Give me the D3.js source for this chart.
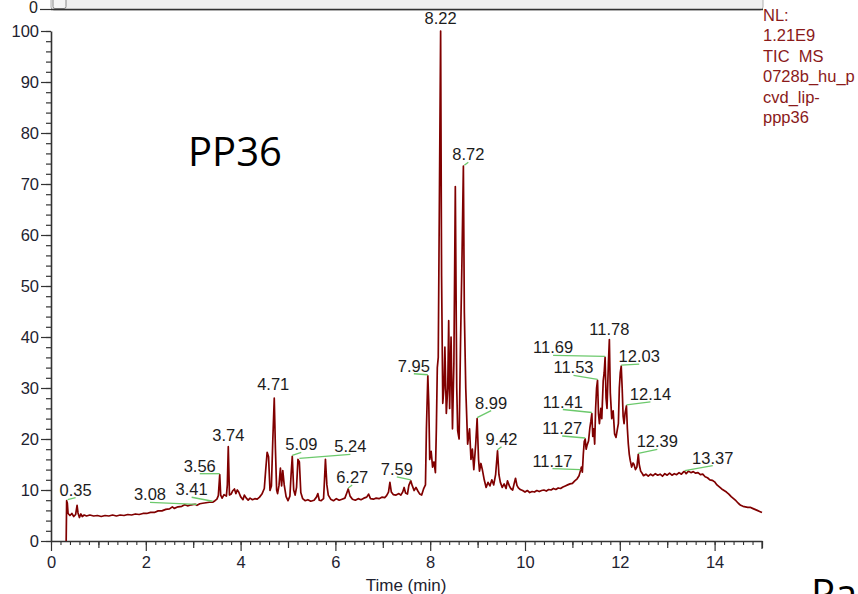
<!DOCTYPE html>
<html><head><meta charset="utf-8">
<script src="https://cdn.jsdelivr.net/npm/d3@7"></script>
<style>
html,body{margin:0;padding:0;background:#fff;overflow:hidden;}
svg{display:block;}
</style></head><body>
<script>
// ---------- DATA ----------
const trace = [
[0.32,0],[0.33,7.9],[0.345,7.4],[0.36,5.4],[0.40,5.0],[0.44,5.4],[0.48,4.8],[0.52,5.2],[0.55,7.0],[0.57,5.5],
[0.60,4.6],[0.63,5.3],[0.66,4.8],[0.70,5.1],[0.75,4.9],[0.82,5.1],[0.90,4.9],[0.98,5.0],[1.06,4.8],[1.14,5.0],
[1.22,4.9],[1.30,5.1],[1.38,4.9],[1.46,5.1],[1.54,5.0],[1.62,5.2],[1.70,5.1],[1.78,5.3],[1.86,5.2],[1.94,5.4],
[2.02,5.4],[2.10,5.6],[2.18,5.6],[2.26,5.9],[2.34,5.9],[2.42,6.2],[2.50,6.3],[2.56,6.7],[2.60,6.4],[2.68,6.7],
[2.76,6.8],[2.82,7.1],[2.88,6.9],[2.96,7.1],[3.04,7.2],[3.08,7.0],[3.14,7.3],[3.20,7.4],[3.27,7.5],[3.34,7.6],
[3.41,7.6],[3.46,7.9],[3.50,8.2],[3.53,8.9],[3.56,13.0],[3.58,9.0],[3.61,8.4],[3.65,9.1],[3.70,8.8],[3.72,11.0],
[3.74,18.5],[3.765,9.0],[3.80,9.2],[3.83,9.8],[3.87,10.2],[3.90,9.3],[3.93,10.0],[3.96,9.6],[4.00,8.7],[4.05,8.1],
[4.08,9.0],[4.12,8.4],[4.16,8.0],[4.20,8.4],[4.25,8.1],[4.30,8.3],[4.35,8.2],[4.40,8.6],[4.45,9.2],[4.50,10.3],
[4.53,14.0],[4.56,17.4],[4.59,16.5],[4.62,9.9],[4.65,10.8],[4.68,20.0],[4.71,28.0],[4.735,18.0],[4.76,10.0],[4.78,9.3],
[4.81,10.9],[4.84,14.3],[4.865,10.8],[4.89,13.8],[4.92,11.0],[4.96,8.7],[5.00,7.9],[5.04,8.8],[5.065,13.0],[5.09,16.6],
[5.12,10.0],[5.15,9.0],[5.18,10.5],[5.21,16.0],[5.24,15.5],[5.27,9.5],[5.31,8.3],[5.36,7.9],[5.42,8.1],[5.48,7.8],
[5.55,8.0],[5.60,8.6],[5.63,9.3],[5.66,8.0],[5.70,7.9],[5.75,8.3],[5.77,12.0],[5.79,16.0],[5.82,11.0],[5.85,9.0],
[5.90,8.2],[5.96,7.9],[6.02,8.3],[6.08,8.0],[6.14,8.2],[6.20,8.4],[6.24,9.4],[6.27,10.2],[6.31,8.8],[6.36,8.2],
[6.42,8.0],[6.48,8.3],[6.54,8.1],[6.60,8.4],[6.66,8.6],[6.70,9.2],[6.74,8.3],[6.80,8.2],[6.86,8.4],[6.92,8.3],
[6.98,8.6],[7.04,8.5],[7.08,8.9],[7.12,9.6],[7.15,11.5],[7.18,9.6],[7.22,9.1],[7.28,9.0],[7.34,9.3],[7.38,9.0],
[7.42,9.6],[7.45,10.5],[7.48,9.4],[7.52,9.2],[7.55,10.9],[7.59,11.8],[7.62,10.9],[7.66,9.9],[7.70,10.5],[7.74,9.8],
[7.78,9.2],[7.82,9.0],[7.86,10.2],[7.90,11.0],[7.92,22.0],[7.95,32.4],[7.97,27.0],[7.99,16.0],[8.02,17.6],[8.05,14.5],
[8.08,15.5],[8.11,13.4],[8.13,22.0],[8.15,34.0],[8.17,36.0],[8.19,62.0],[8.22,100],[8.24,52.0],[8.265,27.0],[8.29,30.0],
[8.31,38.0],[8.34,25.0],[8.37,30.0],[8.39,43.2],[8.41,26.0],[8.44,40.0],[8.47,22.0],[8.50,35.0],[8.53,69.5],[8.56,30.0],
[8.58,21.6],[8.61,20.0],[8.64,39.0],[8.67,55.0],[8.70,73.5],[8.72,45.0],[8.75,30.0],[8.79,19.0],[8.83,22.0],[8.86,16.0],
[8.89,18.0],[8.92,14.0],[8.96,19.0],[8.99,24.0],[9.02,16.0],[9.04,13.7],[9.07,15.2],[9.10,14.0],[9.14,12.0],[9.18,10.5],
[9.22,11.5],[9.26,10.8],[9.30,12.0],[9.34,11.0],[9.38,13.0],[9.42,17.7],[9.45,13.0],[9.48,11.5],[9.52,10.5],[9.56,11.2],
[9.60,10.3],[9.63,11.8],[9.67,10.8],[9.70,10.3],[9.74,10.0],[9.77,11.2],[9.80,12.3],[9.83,10.9],[9.86,10.4],[9.90,10.1],
[9.95,9.9],[10.00,9.6],[10.05,9.9],[10.10,9.5],[10.15,9.7],[10.20,9.6],[10.25,9.9],[10.30,9.7],[10.35,9.9],[10.40,10.0],
[10.45,9.8],[10.50,10.1],[10.55,10.0],[10.60,10.3],[10.65,10.1],[10.70,10.4],[10.75,10.3],[10.80,10.6],[10.85,10.8],[10.90,11.0],
[10.95,11.2],[11.00,11.3],[11.05,11.8],[11.10,12.2],[11.14,12.8],[11.17,13.8],[11.19,14.5],[11.21,13.5],[11.23,17.0],[11.25,19.5],
[11.27,20.0],[11.29,18.0],[11.31,18.8],[11.34,19.6],[11.37,22.3],[11.39,23.5],[11.41,25.0],[11.43,20.5],[11.45,22.0],[11.47,19.0],
[11.49,26.0],[11.51,30.0],[11.53,31.5],[11.55,25.0],[11.57,23.0],[11.60,26.0],[11.62,24.0],[11.65,31.4],[11.67,33.0],[11.69,36.0],
[11.71,28.0],[11.73,26.0],[11.76,35.0],[11.78,39.5],[11.80,29.0],[11.83,24.0],[11.86,25.5],[11.89,21.0],[11.92,20.3],[11.95,22.0],
[11.97,23.0],[11.99,30.0],[12.01,33.0],[12.03,34.3],[12.05,30.0],[12.07,24.5],[12.09,23.0],[12.11,25.0],[12.14,26.5],[12.16,22.0],
[12.18,19.0],[12.20,17.0],[12.22,15.8],[12.25,14.5],[12.28,15.3],[12.30,15.0],[12.33,14.0],[12.36,14.5],[12.39,17.0],[12.41,15.0],
[12.44,13.7],[12.47,13.3],[12.50,12.8],[12.55,13.1],[12.60,12.7],[12.65,13.1],[12.70,12.8],[12.75,13.2],[12.80,12.9],[12.85,13.1],
[12.90,12.7],[12.95,13.2],[13.00,12.9],[13.05,13.3],[13.10,12.9],[13.15,13.2],[13.20,13.0],[13.25,13.4],[13.30,13.1],[13.35,13.6],
[13.37,13.6],[13.40,13.2],[13.45,13.7],[13.50,13.4],[13.55,13.6],[13.60,13.3],[13.65,13.4],[13.70,13.0],[13.75,13.1],[13.80,12.6],
[13.85,12.4],[13.90,12.0],[13.95,11.9],[14.00,11.6],[14.05,11.0],[14.10,10.6],[14.15,10.2],[14.20,9.9],[14.25,9.6],[14.30,9.2],
[14.35,8.7],[14.40,8.3],[14.45,7.9],[14.50,7.4],[14.55,7.0],[14.60,6.8],[14.65,6.7],[14.70,6.6],[14.75,6.6],[14.80,6.4],
[14.85,6.2],[14.90,6.0],[14.95,5.8],[15.00,5.6]
];
const peakTimes   = [0.35,3.08,3.41,3.56,3.74,4.71,5.09,5.24,6.27,7.59,7.95,8.22,8.72,8.99,9.42,11.17,11.27,11.41,11.53,11.69,11.78,12.03,12.14,12.39,13.37];
const peakHeights = [7.9,7.0,7.6,13.0,18.5,28.0,16.6,16.0,10.2,11.8,32.4,100,73.5,24.0,17.7,13.8,20.0,25.0,31.5,36.0,39.5,34.3,26.5,17.0,13.6];
const xTickValues = [0,2,4,6,8,10,12,14];
const yTickValues = [0,10,20,30,40,50,60,70,80,90,100];
const infoLines = ["NL:","1.21E9","TIC  MS","0728b_hu_p","cvd_lip-","ppp36"];
const sampleName = "PP36";
const cornerText = "Pa";
const xTitle = "Time (min)";

// ---------- LAYOUT (pixel offsets of peak labels from their apex) ----------
const labelOffsets = [[8,-5],[-47,-5],[-21,-7],[-20,-3],[0,-6],[-1,-8],[9,-6],[51,-7],[4,-6],[-14,-6],
[-14,-4],[0,-7],[4,-6],[14,-10],[4,-6],[-28,-4],[-23,-5],[-29,-6],[-24,-7],[-52,-4],[0,-5],[18,-4],[24,-6],[19,-7],[28,-8]];

const W = 858, H = 594;
const svg = d3.select("body").append("svg").attr("width", W).attr("height", H)
  .style("font-family", "'Liberation Sans', Arial, sans-serif");

const x = d3.scaleLinear().domain([0, 15]).range([51, 762]);
const y = d3.scaleLinear().domain([0, 100]).range([541, 31]);

// top overview bar
svg.append("rect").attr("x", 51).attr("y", -6).attr("width", 712).attr("height", 16)
  .attr("rx", 3).attr("fill", "#f0f0f0").attr("stroke", "#b0b0b0");
svg.append("rect").attr("x", 53).attr("y", -6).attr("width", 13).attr("height", 14.5)
  .attr("rx", 2).attr("fill", "#f6f6f6").attr("stroke", "#8a8a8a");
svg.append("line").attr("x1", 51).attr("x2", 763).attr("y1", 9.5).attr("y2", 9.5)
  .attr("stroke", "#333").attr("stroke-width", 1.5);
svg.append("line").attr("x1", 40).attr("x2", 51).attr("y1", 9.5).attr("y2", 9.5)
  .attr("stroke", "#333").attr("stroke-width", 1.2);
svg.append("text").attr("x", 38).attr("y", 13).attr("text-anchor", "end")
  .attr("font-size", 16).attr("fill", "#222").text("0");

// y axis
const yMinor = d3.range(0, 101, 2);
svg.append("g").attr("transform", "translate(51,0)")
  .call(d3.axisLeft(y).tickValues(yMinor).tickSize(5).tickSizeOuter(0).tickFormat(""))
  .call(g => g.select(".domain").remove())
  .call(g => g.selectAll("line").attr("stroke", "#333").attr("stroke-width", 1.2));
const gy = svg.append("g").attr("transform", "translate(51,0)")
  .call(d3.axisLeft(y).tickValues(yTickValues).tickSize(10).tickSizeOuter(0).tickPadding(2));
gy.select(".domain").attr("stroke", "#333").attr("stroke-width", 1.6);
gy.selectAll("line").attr("stroke", "#333").attr("stroke-width", 1.2);
gy.selectAll("text").attr("font-size", 16.5).attr("fill", "#1e2230")
  .attr("font-family", "'Liberation Sans', Arial, sans-serif");

// x axis
const xMinor = d3.range(0, 15.01, 0.2).map(v => +v.toFixed(1));
svg.append("g").attr("transform", "translate(0,541)")
  .call(d3.axisBottom(x).tickValues(xMinor).tickSize(4).tickSizeOuter(0).tickFormat(""))
  .call(g => g.select(".domain").remove())
  .call(g => g.selectAll("line").attr("stroke", "#333").attr("stroke-width", 1.1));
svg.append("g").attr("transform", "translate(0,541)")
  .call(d3.axisBottom(x).tickValues(d3.range(1, 16, 2)).tickSize(7).tickSizeOuter(0).tickFormat(""))
  .call(g => g.select(".domain").remove())
  .call(g => g.selectAll("line").attr("stroke", "#333").attr("stroke-width", 1.2));
const gx = svg.append("g").attr("transform", "translate(0,541)")
  .call(d3.axisBottom(x).tickValues(xTickValues).tickSize(10).tickSizeOuter(0).tickPadding(5));
gx.select(".domain").attr("stroke", "#333").attr("stroke-width", 1.6);
gx.selectAll("line").attr("stroke", "#333").attr("stroke-width", 1.2);
gx.selectAll("text").attr("font-size", 16.5).attr("fill", "#1e2230")
  .attr("font-family", "'Liberation Sans', Arial, sans-serif");
svg.append("line").attr("x1", x(15)).attr("x2", x(15)).attr("y1", 541).attr("y2", 549)
  .attr("stroke", "#333").attr("stroke-width", 1.2);

svg.append("text").attr("x", 406).attr("y", 591).attr("text-anchor", "middle")
  .attr("font-size", 17).attr("fill", "#1e2230").text(xTitle);

// trace
const line = d3.line().x(d => x(d[0])).y(d => y(d[1]));
svg.append("path").datum(trace).attr("d", line).attr("fill", "none")
  .attr("stroke", "#800000").attr("stroke-width", 1.7).attr("stroke-linejoin", "round");

// peak labels
const peaks = peakTimes.map((t, i) => ({t, v: peakHeights[i], dx: labelOffsets[i][0], dy: labelOffsets[i][1]}));
svg.append("g").selectAll("line").data(peaks.filter(p => Math.abs(p.dx) > 2.5)).join("line")
  .attr("x1", p => x(p.t)).attr("y1", p => y(p.v) - 1)
  .attr("x2", p => x(p.t) + p.dx).attr("y2", p => y(p.v) + p.dy + 2)
  .attr("stroke", "#6cc96c").attr("stroke-width", 1.3);
svg.append("g").selectAll("text").data(peaks).join("text")
  .attr("x", p => x(p.t) + p.dx).attr("y", p => y(p.v) + p.dy)
  .attr("text-anchor", "middle").attr("font-size", 16.5).attr("fill", "#1c1c1c")
  .text(p => p.t.toFixed(2));

// info text
svg.append("g").selectAll("text").data(infoLines).join("text")
  .attr("x", 763).attr("y", (d, i) => 21 + i * 20.4)
  .attr("font-size", 16.5).attr("fill", "#8a1a1a").style("white-space", "pre")
  .text(d => d);

// sample name
svg.append("text").attr("x", 188).attr("y", 166)
  .attr("font-family", "'Open Sans', 'Noto Sans', sans-serif").attr("font-size", 40)
  .attr("fill", "#000").text(sampleName);
svg.append("text").attr("x", 811).attr("y", 608)
  .attr("font-family", "'Open Sans', 'Noto Sans', sans-serif").attr("font-size", 40)
  .attr("fill", "#000").text(cornerText);
</script>
</body></html>
